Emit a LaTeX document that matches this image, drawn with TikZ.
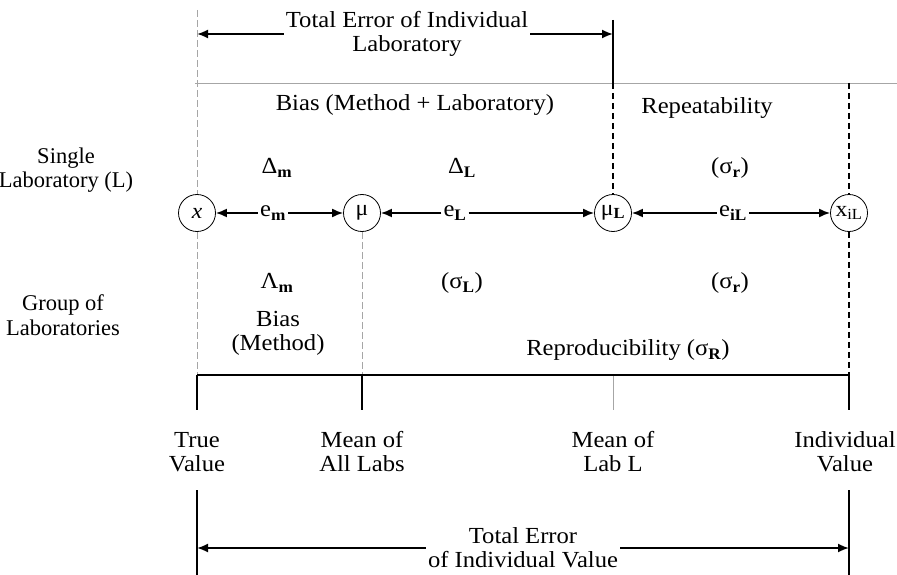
\documentclass[tikz,border=0pt]{standalone}
\usepackage{fontspec}
\setmainfont{Liberation Serif}[FakeStretch=1.07]
\newfontfamily\sideserif{Liberation Serif}
\usetikzlibrary{arrows.meta}
\begin{document}
\begin{tikzpicture}[x=1pt,y=-1pt,
  lbl/.style={font=\fontsize{23}{24}\selectfont, align=center, inner sep=2pt},
  side/.style={font=\sideserif\fontsize{22.5}{24.5}\selectfont, align=center, inner sep=2pt},
  circ/.style={circle, draw, line width=0.8pt, minimum size=37pt, inner sep=0pt, font=\fontsize{22}{22}\selectfont},
  arr/.style={line width=1.8pt, -{Latex[length=11pt,width=9pt]}},
  bline/.style={black, line width=2pt},
  gline/.style={black!35, line width=0.8pt, dash pattern=on 7pt off 3pt},
  gsolid/.style={black!35, line width=0.8pt},
  kdash/.style={black, line width=1.8pt, dash pattern=on 6pt off 4pt},
]
\useasboundingbox (0,0) rectangle (897,575);

% circles
\node[circ] (cx) at (197,213) {\textit{x}};
\node[circ] (cmu) at (362,213) {μ};
\node[circ] (cmuL) at (613,213) {μ\textsubscript{\textbf{L}}};
\node[circ] (cxiL) at (849,213) {x\textsubscript{iL}};

% labels
\node[side] (single) at (66,170) {Single\\Laboratory (L)};
\node[side] (group) at (63,315) {Group of\\Laboratories};
\node[lbl] (biasML) at (415,105) {Bias (Method + Laboratory)};
\node[lbl] (rep) at (707,108) {Repeatability};
\node[lbl] (dm) at (277,168) {Δ\textsubscript{\textbf{m}}};
\node[lbl] (dL) at (462,168) {Δ\textsubscript{\textbf{L}}};
\node[lbl] (sr1) at (730,168) {(σ\textsubscript{\textbf{r}})};
\node[lbl] (em) at (273,213) {e\textsubscript{\textbf{m}}};
\node[lbl] (eL) at (455,213) {e\textsubscript{\textbf{L}}};
\node[lbl] (eiL) at (733,213) {e\textsubscript{\textbf{iL}}};
\node[lbl] (lm) at (277,283) {Λ\textsubscript{\textbf{m}}};
\node[lbl] (sL) at (462,283) {(σ\textsubscript{\textbf{L}})};
\node[lbl] (sr2) at (730,283) {(σ\textsubscript{\textbf{r}})};
\node[lbl] (biasM) at (278,333) {Bias\\(Method)};
\node[lbl] (repro) at (628,350) {Reproducibility (σ\textsubscript{\textbf{R}})};
\node[lbl] (tv) at (197,452) {True\\Value};
\node[lbl] (mal) at (362,452) {Mean of\\All Labs};
\node[lbl] (mll) at (613,452) {Mean of\\Lab L};
\node[lbl] (iv) at (845,452) {Individual\\Value};
\node[lbl] (tei) at (407,34) {Total Error of Individual\\Laboratory};
\node[lbl] (tev) at (523,548) {Total Error\\of Individual Value};

% coordinates
\coordinate (Xtop) at (197,10);
\coordinate (Xbase) at (197,375);
\coordinate (Xtick) at (197,410);
\coordinate (Mbase) at (362,375);
\coordinate (Mtick) at (362,410);
\coordinate (Lbase) at (613,375);
\coordinate (Ltick) at (613,410);
\coordinate (Ltop) at (613,20);
\coordinate (Lmid) at (613,83);
\coordinate (Rmid) at (849,83);
\coordinate (Rbase) at (849,375);
\coordinate (Rtick) at (849,410);
\coordinate (Hl) at (195,83);
\coordinate (Hr) at (897,83);
\coordinate (Xlow) at (197,490);
\coordinate (Xend) at (197,575);
\coordinate (Rlow) at (849,490);
\coordinate (Rend) at (849,575);

% grey guides
\draw[gsolid] (Hl) -- (Hr);
\draw[gline] (Xtop) -- (cx);
\draw[gline] (cx) -- (Xbase);
\draw[gline] (cmu) -- (Mbase);
\draw[gsolid] (Lbase) -- (Ltick);

% black verticals
\draw[bline] (Ltop) -- (Lmid);
\draw[kdash] (Lmid) -- (cmuL);
\draw[kdash] (Rmid) -- (cxiL);
\draw[kdash] (cxiL) -- (Rbase);
\draw[bline] (Rbase) -- (Rtick);
\draw[bline] (Xbase) -- (Rbase);
\draw[bline] (Xbase) -- (Xtick);
\draw[bline] (Mbase) -- (Mtick);
\draw[bline] (Xlow) -- (Xend);
\draw[bline] (Rlow) -- (Rend);

% arrows on the middle row
\draw[arr] (em) -- (cx);
\draw[arr] (em) -- (cmu);
\draw[arr] (eL) -- (cmu);
\draw[arr] (eL) -- (cmuL);
\draw[arr] (eiL) -- (cmuL);
\draw[arr] (eiL) -- (cxiL);

% total error arrows
\draw[arr] (tei.west) -- (cx |- tei.west);
\draw[arr] (tei.east) -- (cmuL |- tei.east);
\draw[arr] (tev.west) -- (cx |- tev.west);
\draw[arr] (tev.east) -- (cxiL |- tev.east);
\end{tikzpicture}
\end{document}
